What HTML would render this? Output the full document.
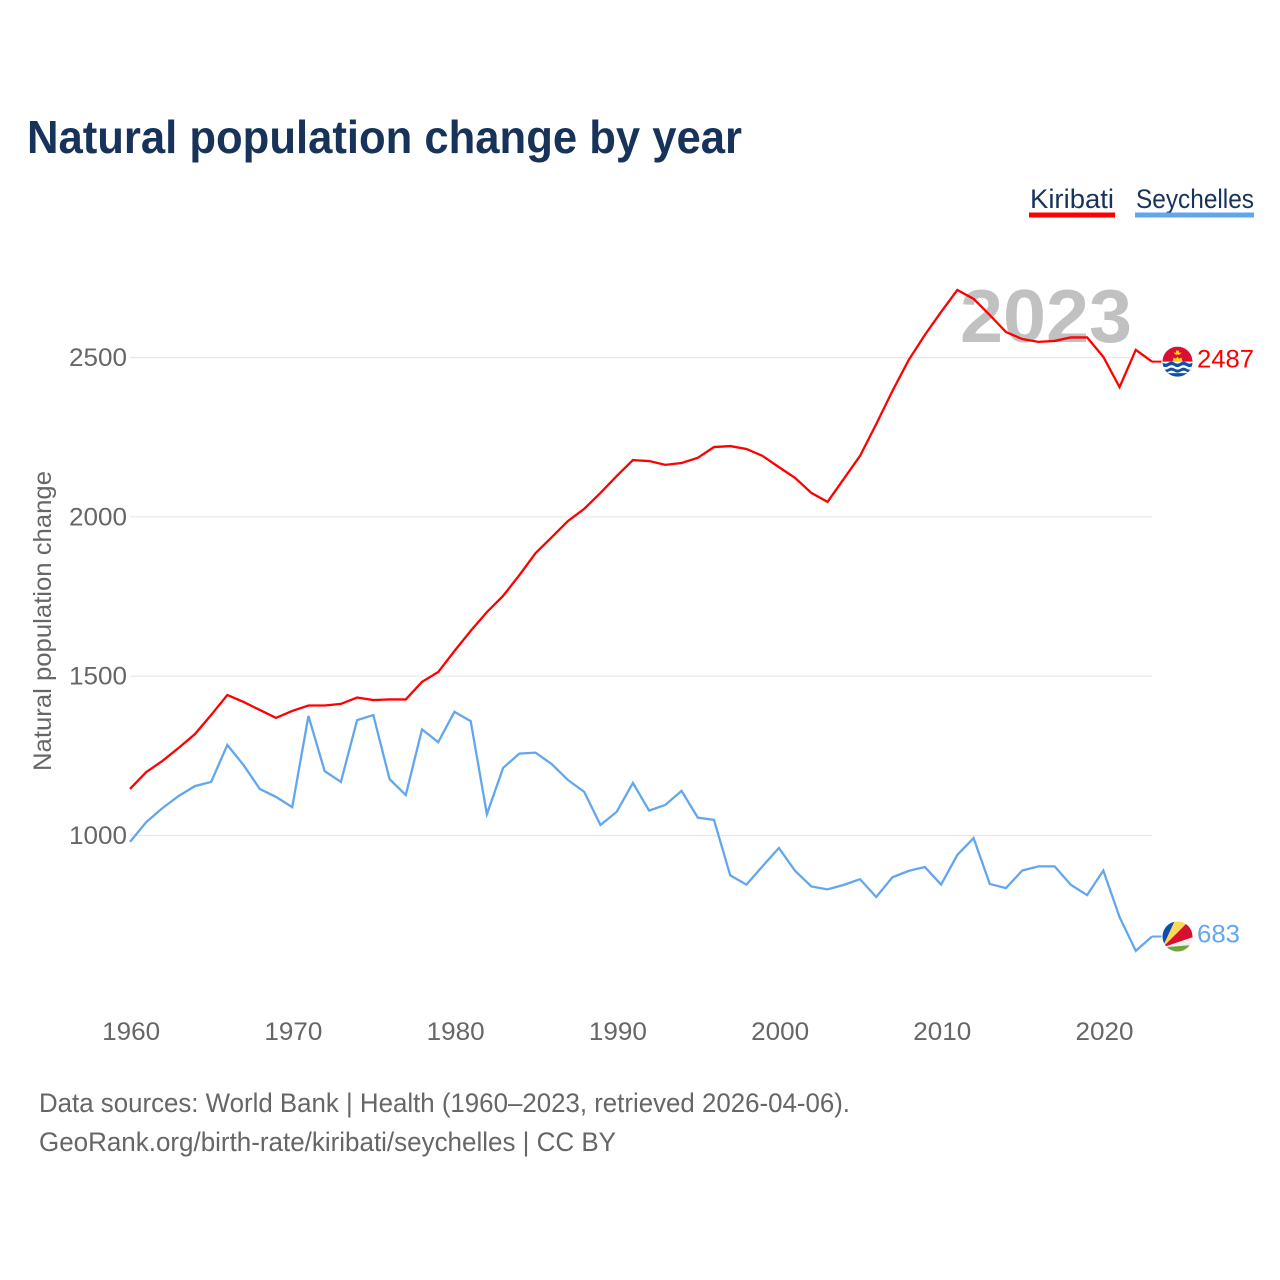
<!DOCTYPE html>
<html lang="en">
<head>
<meta charset="utf-8">
<title>Natural population change by year</title>
<style>
  html, body { margin: 0; padding: 0; background: #ffffff; }
  svg { display: block; }
  text { font-family: "Liberation Sans", sans-serif; }
</style>
</head>
<body>
<svg id="chart" xmlns="http://www.w3.org/2000/svg" width="1280" height="1280" viewBox="0 0 1280 1280">
  <rect x="0" y="0" width="1280" height="1280" fill="#ffffff"/>
  <text x="27" y="153" font-size="46" font-weight="700" fill="#17335a" textLength="715" lengthAdjust="spacingAndGlyphs">Natural population change by year</text>
  <text x="1030" y="208" font-size="27" fill="#17335a" textLength="84" lengthAdjust="spacingAndGlyphs">Kiribati</text>
  <rect x="1029" y="212.5" width="86" height="5" fill="#ff0000"/>
  <text x="1136" y="208" font-size="27" fill="#17335a" textLength="118" lengthAdjust="spacingAndGlyphs">Seychelles</text>
  <rect x="1135" y="212.5" width="119" height="5" fill="#62a7ee"/>
  <text transform="translate(51 621) rotate(-90)" text-anchor="middle" font-size="25" fill="#666666" textLength="300" lengthAdjust="spacingAndGlyphs">Natural population change</text>
  <g id="grid"></g>
  <text x="960" y="342" font-size="75" font-weight="700" fill="#c1c1c1" textLength="172" lengthAdjust="spacingAndGlyphs">2023</text>
  <g id="y-axis"></g>
  <g id="x-axis"></g>
  <g id="series"></g>
  <defs>
    <clipPath id="flag-clip-k"><circle cx="0" cy="0" r="15"/></clipPath>
    <clipPath id="flag-clip-s"><circle cx="0" cy="0" r="15"/></clipPath>
  </defs>
  <g id="flag-kiribati" clip-path="url(#flag-clip-k)">
    <rect x="-15" y="-15" width="30" height="30" fill="#d90f35"/>
    <path d="M-5 0 L-4 -4 L-1.5 -3 L0 -5 L1.5 -3 L4 -4 L5 0 Z" fill="#fcd116"/>
    <path d="M-4 -9 H4 L2 -7 H-2 Z M-1.5 -11 H1.5 V-9 H-1.5 Z" fill="#fcd116"/>
    <rect x="-15" y="0" width="30" height="15" fill="#ffffff"/>
    <path d="M-15 1 q3 2 6 0 t6 0 t6 0 t6 0 t6 0 V4.5 q-3 2 -6 0 t-6 0 t-6 0 t-6 0 t-6 0 Z" fill="#0f4fa8"/>
    <path d="M-15 7 q3 2 6 0 t6 0 t6 0 t6 0 t6 0 V10 q-3 2 -6 0 t-6 0 t-6 0 t-6 0 t-6 0 Z" fill="#0f4fa8"/>
    <rect x="-15" y="11.5" width="30" height="4" fill="#0f4fa8"/>
  </g>
  <g id="flag-seychelles" clip-path="url(#flag-clip-s)">
    <rect x="-15" y="-15" width="30" height="30" fill="#f0f0f0"/>
    <path d="M-15 11 L-15 -16 L-2.5 -16 Z" fill="#0b4fa8"/>
    <path d="M-15 11 L-2.5 -16 L12 -16 Z" fill="#fcd856"/>
    <path d="M-15 11 L12 -16 L16 -16 L16 0.5 Z" fill="#d8102f"/>
    <path d="M-15 11 L16 0.5 L16 15 L-15 15 Z" fill="#f0f0f0"/>
    <path d="M-10 10.5 L15 8.5 L15 16 L-15 16 Z" fill="#6fa53c"/>
  </g>
  <text x="39" y="1112" font-size="27" fill="#666666" textLength="811" lengthAdjust="spacingAndGlyphs">Data sources: World Bank | Health (1960–2023, retrieved 2026-04-06).</text>
  <text x="39" y="1151" font-size="27" fill="#666666" textLength="577" lengthAdjust="spacingAndGlyphs">GeoRank.org/birth-rate/kiribati/seychelles | CC BY</text>
</svg>
<script>
const years = [1960,1961,1962,1963,1964,1965,1966,1967,1968,1969,1970,1971,1972,1973,1974,1975,1976,1977,1978,1979,1980,1981,1982,1983,1984,1985,1986,1987,1988,1989,1990,1991,1992,1993,1994,1995,1996,1997,1998,1999,2000,2001,2002,2003,2004,2005,2006,2007,2008,2009,2010,2011,2012,2013,2014,2015,2016,2017,2018,2019,2020,2021,2022,2023];
const kiribatiValues = [1146,1199,1234,1275,1318,1378,1441,1419,1394,1369,1391,1408,1408,1413,1433,1425,1427,1427,1482,1513,1579,1642,1701,1752,1817,1886,1936,1987,2025,2075,2128,2178,2175,2163,2169,2185,2219,2222,2213,2191,2156,2122,2075,2047,2119,2191,2291,2395,2492,2571,2643,2712,2684,2633,2580,2558,2549,2552,2563,2563,2502,2407,2524,2487];
const seychellesValues = [980,1042,1086,1124,1155,1168,1284,1221,1146,1121,1089,1375,1202,1168,1362,1378,1177,1127,1333,1293,1388,1359,1067,1212,1257,1260,1224,1174,1137,1033,1074,1165,1078,1096,1140,1056,1049,875,846,904,961,889,840,831,845,863,807,869,889,901,846,939,992,848,835,890,903,903,845,813,890,744,638,683];
const yTicks = [1000,1500,2000,2500];
const xTicks = [1960,1970,1980,1990,2000,2010,2020];

const NS = 'http://www.w3.org/2000/svg';
const plotLeft = 130, plotRight = 1152, flagX = 1177.5, labelX = 1197;
function xScale(year) {
  return plotLeft + (year - years[0]) * (plotRight - plotLeft) / (years[years.length - 1] - years[0]);
}
function yScale(value) {
  return 835.5 - (value - 1000) * 0.31867;
}
function svgEl(tag, attrs, text) {
  const el = document.createElementNS(NS, tag);
  for (const key in attrs) el.setAttribute(key, attrs[key]);
  if (text !== undefined) el.textContent = text;
  return el;
}

const grid = document.getElementById('grid');
const yAxis = document.getElementById('y-axis');
yTicks.forEach(function (tick) {
  const line = svgEl('line', { x1: plotLeft, x2: plotRight, y1: yScale(tick), y2: yScale(tick), stroke: '#e8e8e8', 'stroke-width': 1.2 });
  
  
  grid.appendChild(line);
  const label = svgEl('text', { x: 127, y: yScale(tick) + 8.5, 'text-anchor': 'end', 'font-size': 25, fill: '#666666', textLength: 58, lengthAdjust: 'spacingAndGlyphs' }, String(tick));
  
  
  yAxis.appendChild(label);
});

const xAxis = document.getElementById('x-axis');
xTicks.forEach(function (tick) {
  const label = svgEl('text', { x: xScale(tick) + 1.2, y: 1040, 'text-anchor': 'middle', 'font-size': 25, fill: '#666666', textLength: 58, lengthAdjust: 'spacingAndGlyphs' }, String(tick));
  
  
  xAxis.appendChild(label);
});

function drawSeries(values, color, seriesName, labelWidth) {
  const group = document.getElementById('series');
  const points = values.map(function (value, i) {
    return xScale(years[i]).toFixed(2) + ',' + yScale(value).toFixed(2);
  }).join(' ');
  const line = svgEl('polyline', { points: points, fill: 'none', stroke: color, 'stroke-width': 2.3, 'stroke-linejoin': 'miter' });
  
  
  group.appendChild(line);
  const lastValue = values[values.length - 1];
  const lastY = yScale(lastValue);
  const connector = svgEl('line', { x1: plotRight, x2: flagX - 16, y1: lastY, y2: lastY, stroke: color, 'stroke-width': 2 });
  
  
  group.appendChild(connector);
  const endLabel = svgEl('text', { x: labelX, y: lastY + 6, 'font-size': 25, fill: color, textLength: labelWidth, lengthAdjust: 'spacingAndGlyphs' }, String(lastValue));
  
  
  group.appendChild(endLabel);
  return lastY;
}

const kiribatiEndY = drawSeries(kiribatiValues, '#ff0000', 'kiribati', 57);
const seychellesEndY = drawSeries(seychellesValues, '#62a7ee', 'seychelles', 43);
document.getElementById('flag-kiribati').setAttribute('transform', 'translate(' + flagX + ' ' + kiribatiEndY + ')');
document.getElementById('flag-seychelles').setAttribute('transform', 'translate(' + flagX + ' ' + seychellesEndY + ')');
</script>
</body>
</html>
